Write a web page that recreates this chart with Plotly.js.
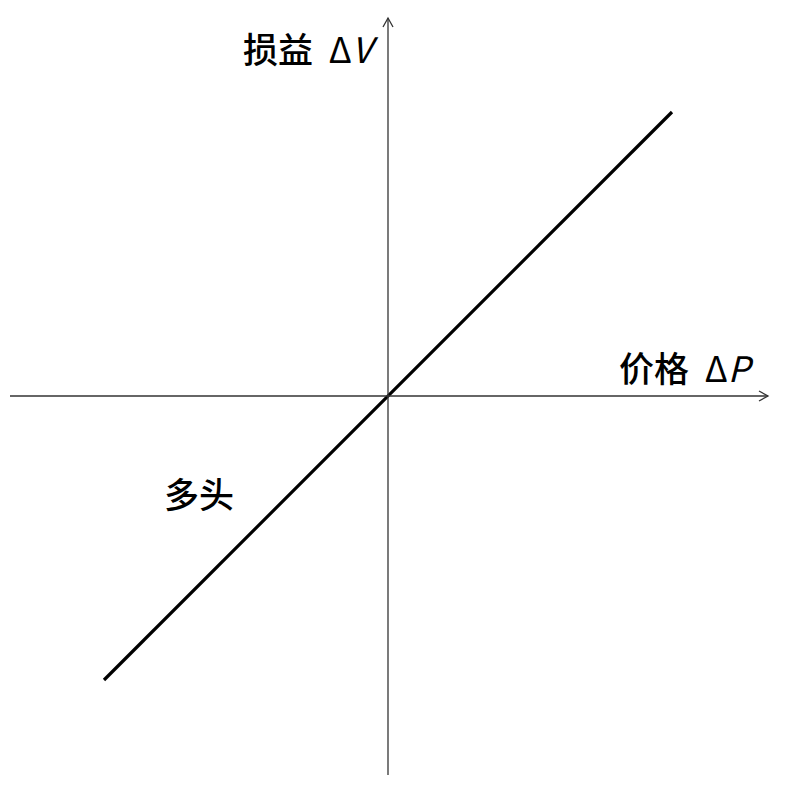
<!DOCTYPE html>
<html>
<head>
<meta charset="utf-8">
<script src="https://cdn.plot.ly/plotly-3.0.1.min.js"></script>
<style>html,body{margin:0;padding:0;background:#fff;}#chart{width:786px;height:790px;}</style>
</head>
<body>
<div id="chart"></div>
<script>
// Data: long position payoff, profit = price change
const priceChange = [-1, 1];
const profit = [-1, 1];
const xLabel = '价格  <span style="font-weight:normal">Δ<i>P</i></span>';
const yLabel = '损益  <span style="font-weight:normal">Δ<i>V</i></span>';
const lineLabel = '多头';

const U = 284; // px per data unit
const ox = 388, oy = 396;
const W = 786, H = 790;
const px = p => (p - ox) / U;      // pixel x -> data
const py = p => (oy - p) / U;      // pixel y -> data

const xmin = px(10), xmax = px(768), ymin = py(775), ymax = py(18);
const ah = 9 / U, aw = 5 / U;

const trace = {
  x: priceChange, y: profit, mode: 'lines', type: 'scatter',
  line: {color: '#000', width: 3.2}, hoverinfo: 'skip', showlegend: false
};

const axisColor = '#333';
const shapes = [
  {type: 'line', x0: xmin, x1: xmax, y0: 0, y1: 0, line: {color: axisColor, width: 1.3}},
  {type: 'line', x0: 0, x1: 0, y0: ymin, y1: ymax, line: {color: axisColor, width: 1.3}},
  {type: 'path', path: `M ${xmax-ah} ${aw} L ${xmax} 0 L ${xmax-ah} ${-aw}`, line: {color: axisColor, width: 1.3}},
  {type: 'path', path: `M ${-aw} ${ymax-ah} L 0 ${ymax} L ${aw} ${ymax-ah}`, line: {color: axisColor, width: 1.3}}
];

const font = {family: '"Noto Sans CJK SC", "Liberation Sans", sans-serif', size: 35, color: '#000', weight: 500};
const annotations = [
  {x: px(381), y: py(47), text: yLabel, showarrow: false, xanchor: 'right', yanchor: 'middle', font: font},
  {x: px(757), y: py(366), text: xLabel, showarrow: false, xanchor: 'right', yanchor: 'middle', font: font},
  {x: px(199), y: py(492), text: lineLabel, showarrow: false, xanchor: 'center', yanchor: 'middle', font: font}
];

const layout = {
  width: W, height: H,
  margin: {l: 0, r: 0, t: 0, b: 0},
  paper_bgcolor: '#fff', plot_bgcolor: '#fff',
  xaxis: {range: [px(0), px(W)], visible: false, fixedrange: true},
  yaxis: {range: [py(H), py(0)], visible: false, fixedrange: true},
  shapes: shapes, annotations: annotations, showlegend: false
};

Plotly.newPlot('chart', [trace], layout, {displayModeBar: false, staticPlot: true});
</script>
</body>
</html>
